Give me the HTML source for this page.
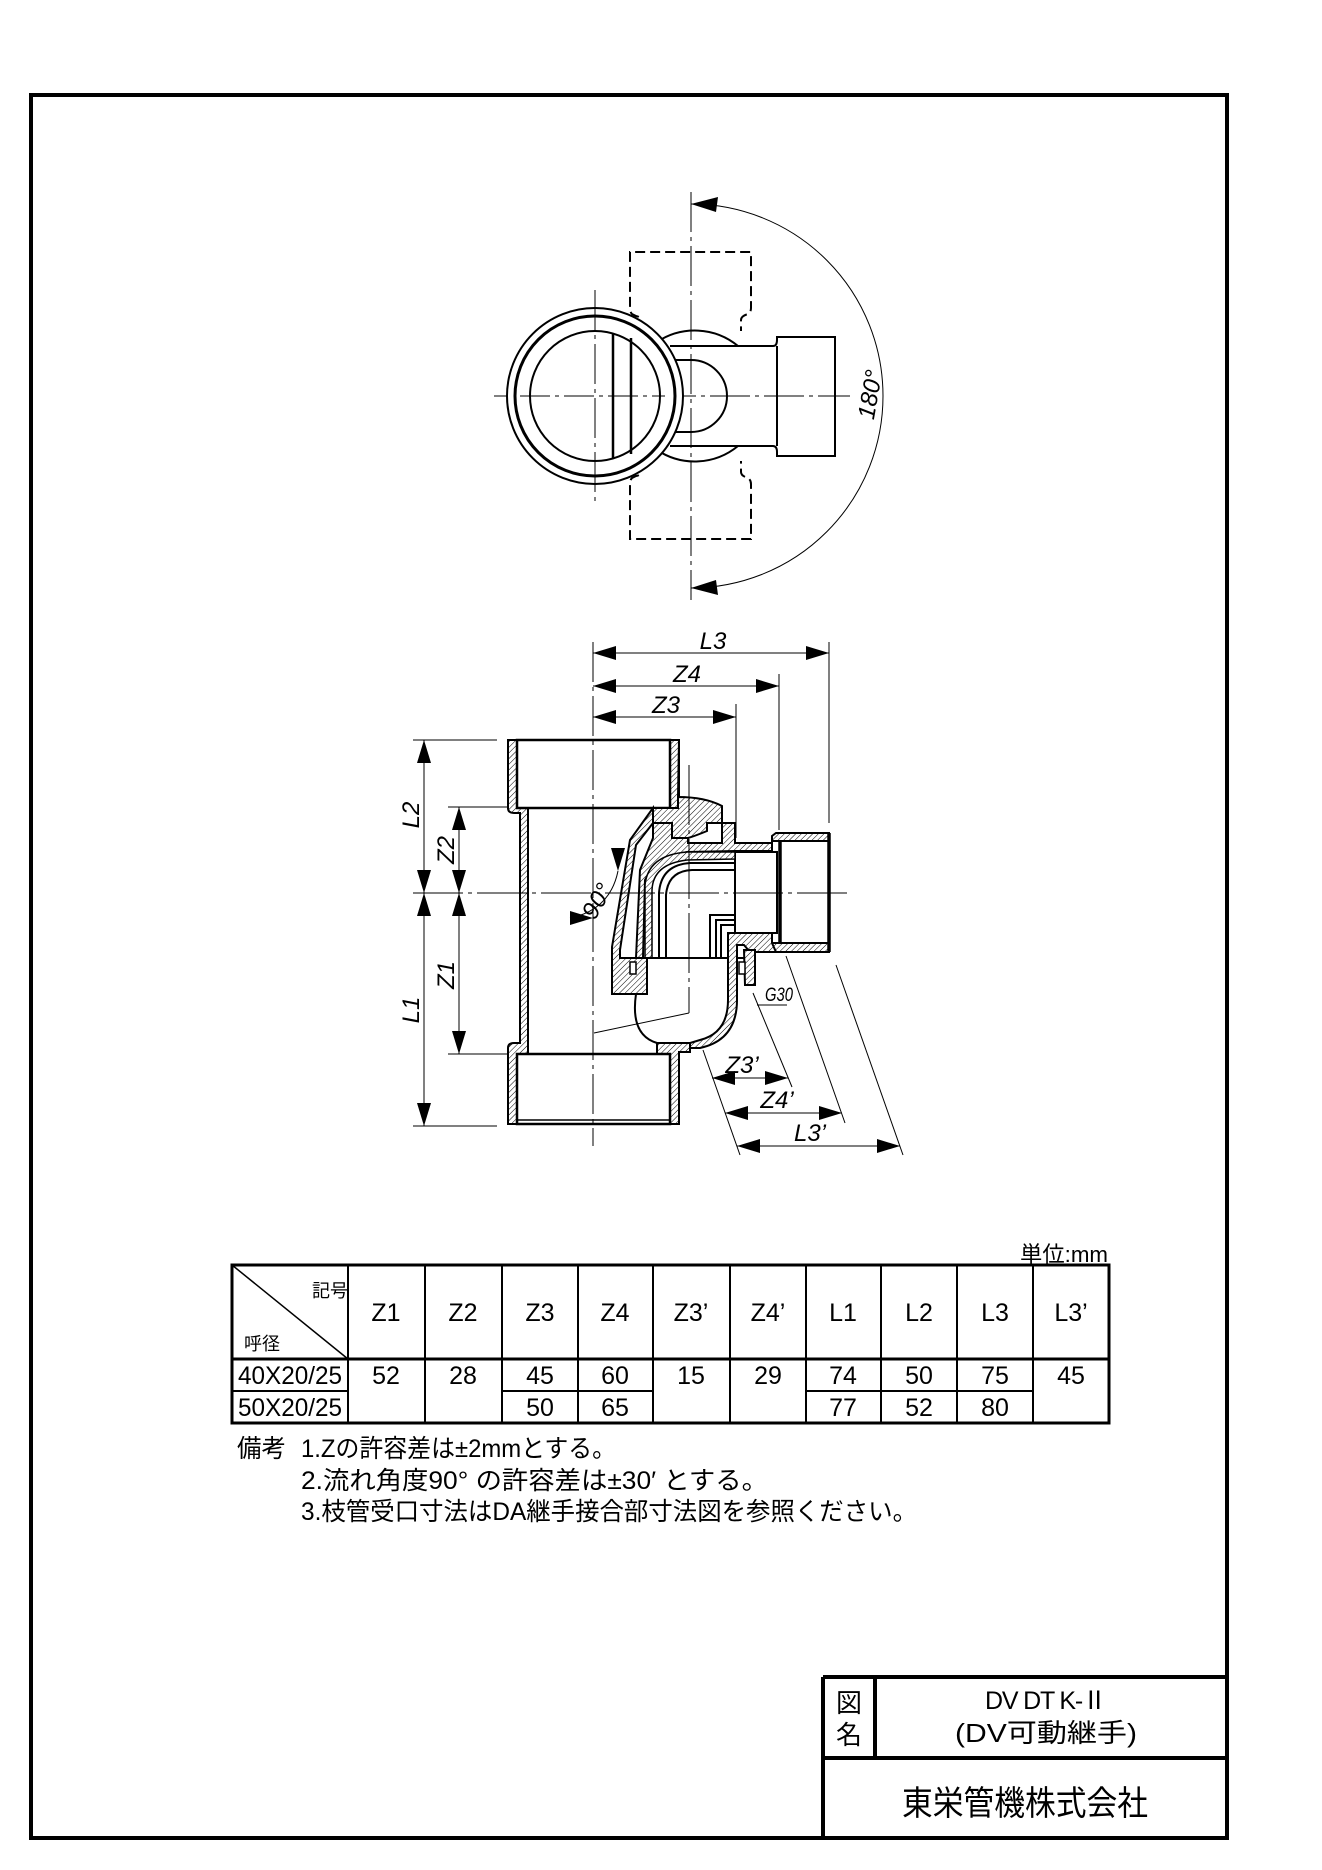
<!DOCTYPE html>
<html><head><meta charset="utf-8"><style>
html,body{margin:0;padding:0;background:#fff}
svg{display:block}
text{font-family:"Liberation Sans","Noto Sans CJK JP",sans-serif;fill:#000}
</style></head><body>
<svg width="1322" height="1870" viewBox="0 0 1322 1870" xmlns="http://www.w3.org/2000/svg">
<defs>
<pattern id="h" patternUnits="userSpaceOnUse" width="4" height="4" patternTransform="rotate(45)">
<rect width="4" height="4" fill="#fff"/><line x1="0" y1="0" x2="0" y2="4" stroke="#000" stroke-width="1"/>
</pattern>
</defs>
<rect x="31" y="95" width="1196" height="1743" fill="none" stroke="#000" stroke-width="4"/>

<!-- ===== Top view ===== -->
<g fill="none" stroke="#000">
<line x1="494" y1="396" x2="850" y2="396" stroke-width="1" stroke-dasharray="40,5,4,5"/>
<line x1="691" y1="192" x2="691" y2="600" stroke-width="1" stroke-dasharray="40,5,4,5"/>
<path d="M641,331 L641,320 Q641,317 636,316 L632,314 Q630,312 630,308 L630,252 L751,252 L751,308 Q751,312 748,314 Q741,316 741,320 L741,331" stroke-width="2" stroke-dasharray="10,5"/>
<path d="M641,461 L641,472 Q641,475 636,476 L632,478 Q630,480 630,484 L630,539 L751,539 L751,484 Q751,480 748,478 Q741,476 741,472 L741,461" stroke-width="2" stroke-dasharray="10,5"/>
<path d="M657,342 A68,68 0 0 1 738,346 M657,450 A68,68 0 0 0 738,446" stroke-width="2"/>
<path d="M671,360 L691,360 A36,36 0 0 1 691,432 L671,432" stroke-width="2"/>
<path d="M670,346 L690,346 L773,346 Q777,346 777,340 L777,337 L835,337 L835,456 L777,456 L777,452 Q777,446 773,446 L670,446" stroke-width="2"/>
<path d="M777,346 L777,446" stroke-width="2"/>
<circle cx="595" cy="396" r="88" fill="#fff" stroke-width="2"/>
<circle cx="595" cy="396" r="80" stroke-width="3"/>
<circle cx="595" cy="396" r="65" stroke-width="2"/>
<line x1="613" y1="334" x2="613" y2="458" stroke-width="2.5"/>
<line x1="631" y1="338" x2="631" y2="454" stroke-width="2.5"/>
<line x1="520" y1="396" x2="665" y2="396" stroke-width="1" stroke-dasharray="30,5,4,5"/>
<line x1="595" y1="290" x2="595" y2="502" stroke-width="1" stroke-dasharray="40,5,4,5"/>
<path d="M691,204 A192,192 0 0 1 691,588" stroke-width="1"/>
</g>
<polygon points="691,204 718,197 716,212" fill="#000"/>
<polygon points="691,588 718,595 716,580" fill="#000"/>
<text transform="translate(878,396) rotate(-80)" font-size="24" font-style="italic" text-anchor="middle">180°</text>

<!-- ===== Front view ===== -->
<g stroke="#000" stroke-width="2">
<path d="M508,740 L517,740 L517,808 L508,808 Z" fill="url(#h)"/>
<path d="M670,740 L679,740 L679,808 L670,808 Z" fill="url(#h)"/>
<path d="M508,808 Q508,813 514,813 L520,813 L520,1043 L514,1043 Q508,1043 508,1048 L508,1124 L517,1124 L517,1054 L528,1054 L528,808 L517,808 L517,740 L508,740 Z" fill="url(#h)"/>
<path d="M679,740 L670,740 L670,808 L678,808 L678,797 Z" fill="url(#h)"/>
<path d="M670,1054 L670,1124 L679,1124 L679,1052 L690,1052 L690,1043 L657,1043 L657,1054 Z" fill="url(#h)"/>
<rect x="517" y="740" width="153" height="68" fill="#fff" stroke-width="2.5"/>
<rect x="517" y="1054" width="153" height="70" fill="#fff" stroke-width="2.5"/>
<line x1="517" y1="1120" x2="670" y2="1120" stroke-width="1.5"/>
<line x1="528" y1="808" x2="528" y2="1054" stroke-width="2"/>
<path d="M678,797 Q705,797 722,806 L722,823 L707,823 L707,831 Q695,836 688,838 L672,838 L672,823 L653,823 L653,808 L678,808 Z" fill="url(#h)"/>
<path d="M653,808 L630,840 L612,947 L612,994 L647,994 L647,958 L620,958 L620,950 L636,845 L653,823 Z" fill="url(#h)"/>
<path d="M653,823 L672,823 L672,838 L688,838 L688,843 L722,843 L722,823 L735,823 L735,843 L772,843 L772,851 L735,851 L687,852 Q655,858 645,880 L643,958 L636,958 L640,870 L653,838 Z" fill="url(#h)"/>
<path d="M772,843 L772,836 L776,833 L829,833 L829,952 L776,952 L772,948 L772,943 L780,943 L780,841 L772,841 Z" fill="url(#h)"/>
<rect x="780" y="841" width="49" height="102" fill="#fff" stroke-width="2"/>
<line x1="780" y1="841" x2="780" y2="943" stroke-width="3.5"/>
<line x1="829" y1="833" x2="829" y2="952" stroke-width="3.5"/>
<rect x="735" y="852" width="42" height="81" fill="#fff" stroke-width="2"/>
<path d="M645,958 L645,885 Q648,855 687,852 L735,852 L735,859 L687,860 Q653,864 652,890 L652,958 Z" fill="url(#h)" stroke-width="1.5"/>
<path d="M659,958 L659,893 Q661,865 690,863 L735,863 M666,958 L666,895 Q668,871 692,870 L735,870" fill="none" stroke-width="2"/>
<path d="M710,958 L710,915 L735,915 M716,958 L716,920 L735,920 M721,958 L721,925 L735,925" fill="none" stroke-width="2"/>
<line x1="620" y1="958" x2="755" y2="958" stroke-width="2"/>
<path d="M728,933 L772,933 L772,943 L776,952 L750,952 L744,945 L737,945 L737,1000 Q737,1040 700,1048 L690,1048 L690,1043 L700,1040 Q728,1033 728,1000 Z" fill="url(#h)"/>
<path d="M744,950 L755,950 L755,985 L745,985 Z" fill="url(#h)"/>
<rect x="739" y="962" width="6" height="12" fill="#fff" stroke-width="1.5"/>
<rect x="630" y="962" width="6" height="12" fill="#fff" stroke-width="1.5"/>
<path d="M636,994 Q630,1035 657,1043" fill="none" stroke-width="2"/>
</g>
<g stroke="#000" fill="none" stroke-width="1">
<line x1="593" y1="642" x2="593" y2="1146" stroke-dasharray="40,5,4,5"/>
<line x1="413" y1="893" x2="850" y2="893" stroke-dasharray="50,5,4,5"/>
<line x1="689" y1="765" x2="689" y2="1013" stroke-dasharray="60,5,4,5"/>
<line x1="594" y1="1033" x2="689" y2="1013"/>
<line x1="736" y1="704" x2="736" y2="838"/>
<line x1="779" y1="674" x2="779" y2="830"/>
<line x1="829" y1="642" x2="829" y2="823"/>
<line x1="593" y1="653" x2="829" y2="653"/>
<line x1="593" y1="686" x2="779" y2="686"/>
<line x1="593" y1="717" x2="736" y2="717"/>
<line x1="413" y1="740" x2="497" y2="740"/>
<line x1="448" y1="807" x2="508" y2="807"/>
<line x1="448" y1="1054" x2="508" y2="1054"/>
<line x1="413" y1="1126" x2="497" y2="1126"/>
<line x1="424" y1="740" x2="424" y2="1126"/>
<line x1="459" y1="807" x2="459" y2="1054"/>
<line x1="703" y1="1050" x2="740" y2="1155"/>
<line x1="753" y1="993" x2="792" y2="1087"/>
<line x1="786" y1="956" x2="845" y2="1123"/>
<line x1="836" y1="965" x2="903" y2="1155"/>
<line x1="712" y1="1078" x2="788" y2="1078"/>
<line x1="725" y1="1113" x2="842" y2="1113"/>
<line x1="737" y1="1146" x2="900" y2="1146"/>
<line x1="757" y1="1005" x2="787" y2="1005"/>
<path d="M570,918 Q610,910 618,871"/>
</g>
<g fill="#000">
<polygon points="593,653 616,646 616,660"/><polygon points="829,653 806,646 806,660"/>
<polygon points="593,686 616,679 616,693"/><polygon points="779,686 756,679 756,693"/>
<polygon points="593,717 616,710 616,724"/><polygon points="736,717 713,710 713,724"/>
<polygon points="424,740 417,763 431,763"/><polygon points="424,893 417,870 431,870"/>
<polygon points="424,893 417,916 431,916"/><polygon points="424,1126 417,1103 431,1103"/>
<polygon points="459,807 452,830 466,830"/><polygon points="459,893 452,870 466,870"/>
<polygon points="459,893 452,916 466,916"/><polygon points="459,1054 452,1031 466,1031"/>
<polygon points="712,1078 735,1071 735,1085"/><polygon points="788,1078 765,1071 765,1085"/>
<polygon points="725,1113 748,1106 748,1120"/><polygon points="842,1113 819,1106 819,1120"/>
<polygon points="737,1146 760,1139 760,1153"/><polygon points="900,1146 877,1139 877,1153"/>
<polygon points="593,918 570,911 570,925"/><polygon points="618,871 611,848 625,848"/>
</g>
<g font-size="24" font-style="italic">
<text x="713" y="649" text-anchor="middle">L3</text>
<text x="687" y="682" text-anchor="middle">Z4</text>
<text x="666" y="713" text-anchor="middle">Z3</text>
<text transform="translate(419,815) rotate(-90)" text-anchor="middle">L2</text>
<text transform="translate(454,850) rotate(-90)" text-anchor="middle">Z2</text>
<text transform="translate(454,975) rotate(-90)" text-anchor="middle">Z1</text>
<text transform="translate(419,1010) rotate(-90)" text-anchor="middle">L1</text>
<text x="742" y="1073" text-anchor="middle">Z3’</text>
<text x="777" y="1108" text-anchor="middle">Z4’</text>
<text x="810" y="1141" text-anchor="middle">L3’</text>
<text transform="translate(604,905) rotate(-60)" text-anchor="middle">90°</text>
</g>
<text x="765" y="1001" font-size="19" font-style="italic" textLength="28" lengthAdjust="spacingAndGlyphs">G30</text>

<!-- ===== Table ===== -->
<g stroke="#000" fill="none">
<rect x="232" y="1265" width="877" height="158" stroke-width="3"/>
<line x1="232" y1="1359" x2="1109" y2="1359" stroke-width="3"/>
<line x1="232" y1="1391" x2="348" y2="1391" stroke-width="2"/>
<line x1="502" y1="1391" x2="653" y2="1391" stroke-width="2"/>
<line x1="806" y1="1391" x2="1033" y2="1391" stroke-width="2"/>
<line x1="232" y1="1265" x2="348" y2="1359" stroke-width="1.5"/>
<g stroke-width="2">
<line x1="348" y1="1265" x2="348" y2="1423"/><line x1="425" y1="1265" x2="425" y2="1423"/>
<line x1="502" y1="1265" x2="502" y2="1423"/><line x1="578" y1="1265" x2="578" y2="1423"/>
<line x1="653" y1="1265" x2="653" y2="1423"/><line x1="730" y1="1265" x2="730" y2="1423"/>
<line x1="806" y1="1265" x2="806" y2="1423"/><line x1="881" y1="1265" x2="881" y2="1423"/>
<line x1="957" y1="1265" x2="957" y2="1423"/><line x1="1033" y1="1265" x2="1033" y2="1423"/>
</g>
</g>
<g font-size="25" text-anchor="middle">
<text x="386" y="1321">Z1</text><text x="463" y="1321">Z2</text><text x="540" y="1321">Z3</text>
<text x="615" y="1321">Z4</text><text x="691" y="1321">Z3’</text><text x="768" y="1321">Z4’</text>
<text x="843" y="1321">L1</text><text x="919" y="1321">L2</text><text x="995" y="1321">L3</text><text x="1071" y="1321">L3’</text>
<text x="290" y="1384" textLength="104" lengthAdjust="spacingAndGlyphs">40X20/25</text>
<text x="290" y="1416" textLength="104" lengthAdjust="spacingAndGlyphs">50X20/25</text>
<text x="386" y="1384">52</text><text x="463" y="1384">28</text><text x="540" y="1384">45</text><text x="615" y="1384">60</text>
<text x="691" y="1384">15</text><text x="768" y="1384">29</text><text x="843" y="1384">74</text><text x="919" y="1384">50</text>
<text x="995" y="1384">75</text><text x="1071" y="1384">45</text>
<text x="540" y="1416">50</text><text x="615" y="1416">65</text><text x="843" y="1416">77</text><text x="919" y="1416">52</text><text x="995" y="1416">80</text>
</g>
<text x="312" y="1297" font-size="18">記号</text>
<text x="244" y="1350" font-size="18">呼径</text>
<text x="1020" y="1262" font-size="22" textLength="88" lengthAdjust="spacingAndGlyphs">単位:mm</text>
<g font-size="25">
<text x="237" y="1457" textLength="49" lengthAdjust="spacingAndGlyphs">備考</text>
<text x="301" y="1457" textLength="315" lengthAdjust="spacingAndGlyphs">1.Zの許容差は±2mmとする。</text>
<text x="301" y="1489" textLength="467" lengthAdjust="spacingAndGlyphs">2.流れ角度90° の許容差は±30′ とする。</text>
<text x="301" y="1520" textLength="616" lengthAdjust="spacingAndGlyphs">3.枝管受口寸法はDA継手接合部寸法図を参照ください。</text>
</g>

<!-- ===== Title block ===== -->
<g stroke="#000" stroke-width="4" fill="none">
<line x1="823" y1="1677" x2="1227" y2="1677"/>
<line x1="823" y1="1677" x2="823" y2="1838"/>
<line x1="823" y1="1758" x2="1227" y2="1758"/>
<line x1="875" y1="1677" x2="875" y2="1758"/>
</g>
<text x="849" y="1712" font-size="26" text-anchor="middle">図</text>
<text x="849" y="1744" font-size="26" text-anchor="middle">名</text>
<text x="985" y="1709" font-size="25" textLength="122" lengthAdjust="spacing">DV DT K-Ⅱ</text>
<text x="955" y="1742" font-size="26" textLength="182" lengthAdjust="spacingAndGlyphs">(DV可動継手)</text>
<text x="902" y="1815" font-size="34" textLength="246" lengthAdjust="spacingAndGlyphs">東栄管機株式会社</text>
</svg>
</body></html>
